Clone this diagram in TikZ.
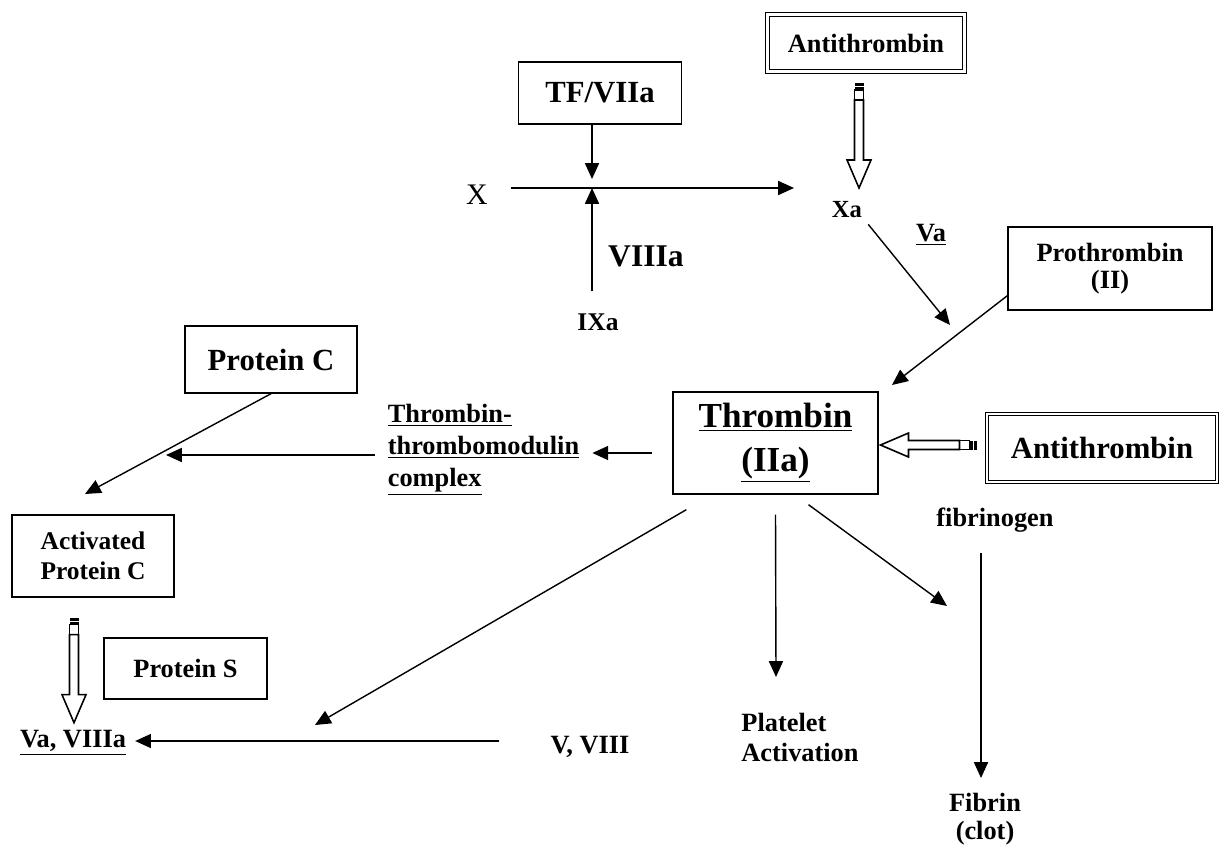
\documentclass[tikz,border=0pt]{standalone}
\usepackage{fontspec}
\setmainfont{Liberation Serif}
\usetikzlibrary{arrows.meta,calc}

\begin{document}
\begin{tikzpicture}[x=0.02cm, y=-0.02cm,
        box/.style={draw, line width=0.8pt, inner sep=0, align=center},
        dbox/.style={draw, double, line width=0.6pt, double distance=1.3pt, inner sep=0, align=center},
        wire/.style={line width=0.8pt, -{Triangle[length=9pt,width=8pt]}},
        txt/.style={font=\bfseries\fontsize{15}{18}\selectfont, align=center},
        big/.style={font=\bfseries\fontsize{17.5}{21}\selectfont, align=center},
        pics/hollow/.style={code={
            \draw[line width=0.9pt, fill=white] (17,-4.5) -- ({#1-28},-4.5) -- ({#1-28},-12) -- (#1,0) -- ({#1-28},12) -- ({#1-28},4.5) -- (17,4.5) -- cycle;
            \draw[line width=0.7pt] (7,-4.5) rectangle (17,4.5);
            \fill (0,-4.5) rectangle (3,4.5);
            \fill (4,-4.5) rectangle (6.5,4.5);
        }}]
        \useasboundingbox (0,0) rectangle (1219,848);
        % Boxes:
        \node[dbox, txt, minimum width=3.94cm, minimum height=1.14cm] (AT1) at (866,43) {Antithrombin};
        \node[box, big, minimum width=3.26cm, minimum height=1.24cm] (TF) at (600,93) {TF/VIIa};
        \node[box, txt, font=\bfseries\fontsize{15}{15.5}\selectfont, minimum width=4.08cm, minimum height=1.66cm] (PT) at (1110,268.5) {Prothrombin\\(II)};
        \node[box, big, minimum width=3.44cm, minimum height=1.34cm] (PC) at (271,359.5) {Protein C};
        \node[box, txt, font=\bfseries\fontsize{14.5}{17}\selectfont, minimum width=3.24cm, minimum height=1.64cm] (APC) at (93,556) {Activated\\Protein C};
        \node[box, txt, minimum width=3.26cm, minimum height=1.22cm] (PS) at (185.5,668.5) {Protein S};
        \node[box, font=\bfseries\fontsize{20}{25}\selectfont, minimum width=4.1cm, minimum height=2.04cm] (TH) at (775.5,443) {\underline{Thrombin}\\\underline{(IIa)}};
        \node[dbox, big, minimum width=4.6cm, minimum height=1.36cm] (AT2) at (1102,448) {Antithrombin};
        % Labels:
        \node[font=\fontsize{17}{20}\selectfont] (X) at (477,195) {X};
        \node[txt, font=\bfseries\fontsize{14}{17}\selectfont] (Xa) at (847,210) {Xa};
        \node[txt] (Va) at (931,235) {\underline{Va}};
        \node[big, font=\bfseries\fontsize{18}{21}\selectfont] (VIIIa) at (646,256) {VIIIa};
        \node[txt, font=\bfseries\fontsize{14.5}{17}\selectfont] (IXa) at (598,322) {IXa};
        \node[txt, align=left, font=\bfseries\fontsize{15}{18.2}\selectfont] (TTM) at (483.5,450) {\underline{Thrombin-}\\\underline{thrombomodulin}\\\underline{complex}};
        \node[txt] (FG) at (995,520) {fibrinogen};
        \node[txt, align=left, font=\bfseries\fontsize{15}{17.6}\selectfont] (PA) at (800,737.5) {Platelet\\Activation};
        \node[txt, font=\bfseries\fontsize{15}{16}\selectfont] (FB) at (985,819) {Fibrin\\(clot)};
        \node[txt] (VV) at (590,747) {V, VIII};
        \node[txt] (VaV) at (73,743) {\underline{Va, VIIIa}};
        % Free ends:
        \coordinate (J) at (592,188);
        \coordinate (Xtip) at (794,188);
        \coordinate (Vtip) at (950,325);
        \coordinate (PTtip) at (892,385);
        \coordinate (TMtip) at (166,455);
        \coordinate (APCtip) at (85,494);
        \coordinate (VVtip) at (315,725);
        \coordinate (PAtip) at (776,677);
        \coordinate (FBtip1) at (947,606);
        \coordinate (FBtip2) at (981,778);
        % Wires:
        \draw[wire, shorten >=0.18cm] (TF.south -| J) -- (J);
        \draw[wire, shorten <=0.32cm] (IXa.north -| J) -- (J);
        \draw[wire, shorten <=0.34cm] (X.east |- J) -- (Xtip);
        \draw[wire] (Xa.south east) -- (Vtip);
        \draw[wire] ($(PT.south west)+(0,-15)$) -- (PTtip);
        \draw[wire] ($(TH.west)+(-20,10)$) -- ($(TTM.east)+(7,3)$);
        \draw[wire] ($(TTM.west)+(-7,5)$) -- (TMtip);
        \draw[wire] (PC.south) -- (APCtip);
        \draw[wire] ($(VV.west)+(-45,-6)$) -- ($(VaV.east)+(3,-2)$);
        \draw[wire] ($(TH.south west)+(14,15)$) -- (VVtip);
        \draw[wire] ($(TH.south)+(0,20)$) -- (PAtip);
        \draw[wire] ($(TH.south)+(33,10)$) -- (FBtip1);
        \draw[wire] ($(FG.south)+(-14,15)$) -- (FBtip2);
        % Inhibition arrows:
        \pic[rotate=-90] at ($(AT1.south)+(-7,11)$) {hollow=105};
        \pic[rotate=180] at ($(AT2.west)+(-10,-3)$) {hollow=96};
        \pic[rotate=-90] at ($(APC.south)+(-19,20)$) {hollow=105};
\end{tikzpicture}
\end{document}
